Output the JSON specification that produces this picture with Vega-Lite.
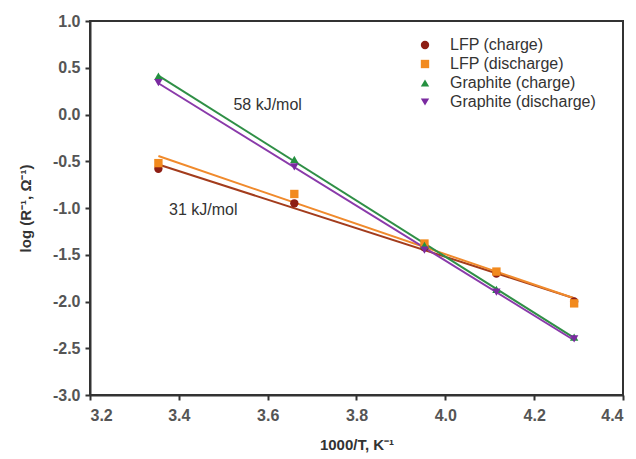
{
  "$schema": "https://vega.github.io/schema/vega-lite/v6.json",
  "width": 533,
  "height": 374,
  "autosize": {"type": "none"},
  "padding": {"left": 90, "top": 21, "right": 13, "bottom": 64},
  "background": "#ffffff",
  "config": {
    "font": "Liberation Sans",
    "view": {"stroke": "#333333", "strokeWidth": 2},
    "axis": {
      "grid": false,
      "domainColor": "#333333",
      "domainWidth": 2,
      "tickColor": "#333333",
      "tickWidth": 2,
      "tickSize": 5,
      "labelFont": "Liberation Sans",
      "labelFontSize": 16,
      "labelColor": "#555555",
      "labelFontWeight": "bold",
      "titleFont": "Liberation Sans",
      "titleFontSize": 15,
      "titleFontWeight": "bold",
      "titleColor": "#333333"
    }
  },
  "resolve": {"scale": {"color": "independent"}, "legend": {"color": "independent", "shape": "independent"}},
  "data": {
    "values": [
      {"series": "LFP (charge)", "x": 3.354, "y": -0.58},
      {"series": "LFP (charge)", "x": 3.66, "y": -0.95},
      {"series": "LFP (charge)", "x": 3.953, "y": -1.42},
      {"series": "LFP (charge)", "x": 4.115, "y": -1.70},
      {"series": "LFP (charge)", "x": 4.29, "y": -2.00},
      {"series": "LFP (discharge)", "x": 3.354, "y": -0.52},
      {"series": "LFP (discharge)", "x": 3.66, "y": -0.85},
      {"series": "LFP (discharge)", "x": 3.953, "y": -1.38},
      {"series": "LFP (discharge)", "x": 4.115, "y": -1.68},
      {"series": "LFP (discharge)", "x": 4.29, "y": -2.02},
      {"series": "Graphite (charge)", "x": 3.354, "y": 0.41},
      {"series": "Graphite (charge)", "x": 3.66, "y": -0.48},
      {"series": "Graphite (charge)", "x": 3.953, "y": -1.40},
      {"series": "Graphite (charge)", "x": 4.115, "y": -1.87},
      {"series": "Graphite (charge)", "x": 4.29, "y": -2.38},
      {"series": "Graphite (discharge)", "x": 3.354, "y": 0.34},
      {"series": "Graphite (discharge)", "x": 3.66, "y": -0.56},
      {"series": "Graphite (discharge)", "x": 3.953, "y": -1.45},
      {"series": "Graphite (discharge)", "x": 4.115, "y": -1.90},
      {"series": "Graphite (discharge)", "x": 4.29, "y": -2.40}
    ]
  },
  "layer": [
    {
      "transform": [
        {"regression": "y", "on": "x", "groupby": ["series"], "extent": [3.354, 4.29]}
      ],
      "mark": {"type": "line", "strokeWidth": 2},
      "encoding": {
        "x": {"field": "x", "type": "quantitative"},
        "y": {"field": "y", "type": "quantitative"},
        "detail": {"field": "series"},
        "color": {
          "field": "series",
          "type": "nominal",
          "scale": {
            "domain": ["LFP (charge)", "LFP (discharge)", "Graphite (charge)", "Graphite (discharge)"],
            "range": ["#a33c1c", "#f08a2c", "#2f8f46", "#8a3aaa"]
          },
          "legend": null
        }
      }
    },
    {
      "mark": {"type": "point", "filled": true, "opacity": 1, "size": 70},
      "encoding": {
        "x": {
          "field": "x",
          "type": "quantitative",
          "scale": {"domain": [3.2, 4.4], "nice": false},
          "axis": {"values": [3.2, 3.4, 3.6, 3.8, 4.0, 4.2, 4.4], "format": ".1f", "title": "1000/T, K⁻¹", "titlePadding": 14, "labelPadding": 7}
        },
        "y": {
          "field": "y",
          "type": "quantitative",
          "scale": {"domain": [-3, 1], "nice": false},
          "axis": {"values": [-3, -2.5, -2, -1.5, -1, -0.5, 0, 0.5, 1], "labelExpr": "replace(format(datum.value, '.1f'), '−', '-')", "title": "log (R⁻¹, Ω⁻¹)", "titlePadding": 19, "labelPadding": 5}
        },
        "color": {
          "field": "series",
          "type": "nominal",
          "scale": {
            "domain": ["LFP (charge)", "LFP (discharge)", "Graphite (charge)", "Graphite (discharge)"],
            "range": ["#8e1e14", "#f28a1e", "#249040", "#7a2aa0"]
          },
          "legend": {
            "title": null,
            "orient": "none",
            "legendX": 327,
            "legendY": 16,
            "labelFontSize": 16,
            "labelFont": "Liberation Sans",
            "labelColor": "#333333",
            "symbolSize": 70,
            "rowPadding": 3,
            "labelOffset": 17
          }
        },
        "shape": {
          "field": "series",
          "type": "nominal",
          "scale": {
            "domain": ["LFP (charge)", "LFP (discharge)", "Graphite (charge)", "Graphite (discharge)"],
            "range": ["circle", "square", "triangle-up", "triangle-down"]
          },
          "legend": {
            "title": null,
            "orient": "none",
            "legendX": 327,
            "legendY": 16,
            "labelFontSize": 16,
            "labelFont": "Liberation Sans",
            "labelColor": "#333333",
            "symbolSize": 70,
            "rowPadding": 3,
            "labelOffset": 17
          }
        }
      }
    },
    {
      "data": {
        "values": [
          {"label": "58 kJ/mol", "x": 3.6, "y": 0.1},
          {"label": "31 kJ/mol", "x": 3.455, "y": -1.02}
        ]
      },
      "mark": {"type": "text", "fontSize": 16, "font": "Liberation Sans", "color": "#333333"},
      "encoding": {
        "x": {"field": "x", "type": "quantitative"},
        "y": {"field": "y", "type": "quantitative"},
        "text": {"field": "label"}
      }
    }
  ]
}
